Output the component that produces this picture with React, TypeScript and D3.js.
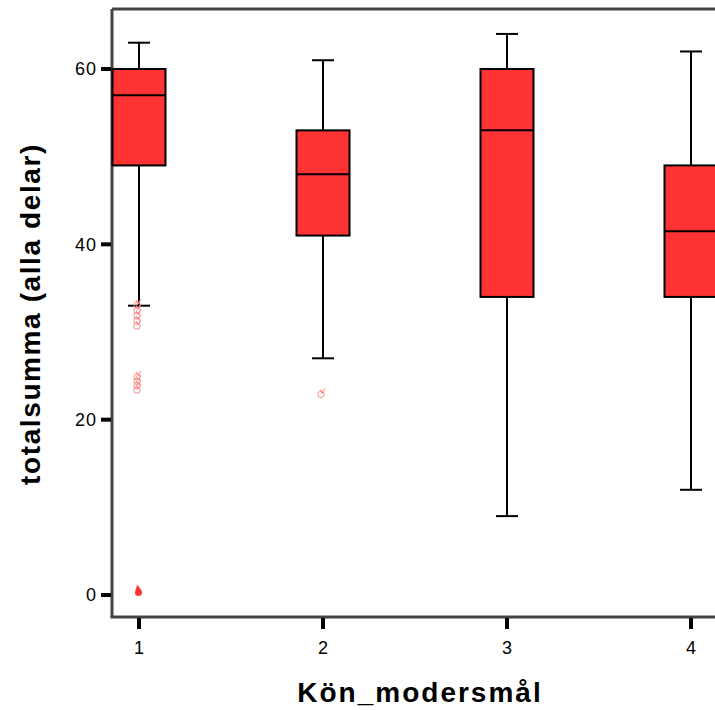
import React from "react";
import * as d3 from "d3";

const categories = ["1", "2", "3", "4"];
const whiskerLow = [33, 27, 9, 12];
const q1 = [49, 41, 34, 34];
const median = [57, 48, 53, 41.5];
const q3 = [60, 53, 60, 49];
const whiskerHigh = [63, 61, 64, 62];
const outliers = [
  [33.2, 32.6, 32, 31.4, 30.8, 25, 24.5, 24, 23.5],
  [23],
  [],
  [],
];
const extremes = [[0.5], [], [], []];
const yTicks = [0, 20, 40, 60];

const App = () => {
  const svgRef = React.useRef<SVGSVGElement>(null);

  React.useEffect(() => {
    const svg = d3.select(svgRef.current);
    svg.selectAll("*").remove();

    const left = 112;
    const top = 9;
    const bottom = 617;

    const x = d3.scaleLinear().domain([1, 4]).range([139, 691]);
    const y = d3.scaleLinear().domain([0, 60]).range([595, 69]);
    const boxW = 53;
    const capW = 22;

    // frame
    svg.append("line").attr("x1", left).attr("x2", left).attr("y1", top).attr("y2", bottom)
      .attr("stroke", "#444").attr("stroke-width", 3);
    svg.append("line").attr("x1", left).attr("x2", 720).attr("y1", top).attr("y2", top)
      .attr("stroke", "#444").attr("stroke-width", 3);
    svg.append("line").attr("x1", left - 1.5).attr("x2", 720).attr("y1", bottom).attr("y2", bottom)
      .attr("stroke", "#444").attr("stroke-width", 3);

    // y ticks
    yTicks.forEach((t) => {
      svg.append("line").attr("x1", left - 11).attr("x2", left - 1).attr("y1", y(t)).attr("y2", y(t))
        .attr("stroke", "#000").attr("stroke-width", 4);
      svg.append("text").attr("x", left - 15).attr("y", y(t)).attr("dy", "0.36em")
        .attr("text-anchor", "end").attr("font-family", "Liberation Sans, Arial, sans-serif")
        .attr("font-size", 18).attr("letter-spacing", 1).text(t);
    });

    categories.forEach((c, i) => {
      const cx = x(i + 1);
      svg.append("line").attr("x1", cx).attr("x2", cx).attr("y1", bottom + 1).attr("y2", bottom + 12)
        .attr("stroke", "#000").attr("stroke-width", 4);
      svg.append("text").attr("x", cx).attr("y", 654).attr("text-anchor", "middle")
        .attr("font-family", "Liberation Sans, Arial, sans-serif").attr("font-size", 18).text(c);

      const g = svg.append("g");
      // whiskers
      g.append("line").attr("x1", cx).attr("x2", cx).attr("y1", y(whiskerHigh[i])).attr("y2", y(q3[i]))
        .attr("stroke", "#000").attr("stroke-width", 2);
      g.append("line").attr("x1", cx).attr("x2", cx).attr("y1", y(q1[i])).attr("y2", y(whiskerLow[i]))
        .attr("stroke", "#000").attr("stroke-width", 2);
      [whiskerHigh[i], whiskerLow[i]].forEach((v) => {
        g.append("line").attr("x1", cx - capW / 2).attr("x2", cx + capW / 2).attr("y1", y(v)).attr("y2", y(v))
          .attr("stroke", "#000").attr("stroke-width", 2);
      });
      g.append("rect").attr("x", cx - boxW / 2).attr("y", y(q3[i])).attr("width", boxW)
        .attr("height", y(q1[i]) - y(q3[i])).attr("fill", "#ff3333")
        .attr("stroke", "#000").attr("stroke-width", 2);
      g.append("line").attr("x1", cx - boxW / 2).attr("x2", cx + boxW / 2)
        .attr("y1", y(median[i])).attr("y2", y(median[i])).attr("stroke", "#000").attr("stroke-width", 2);

      outliers[i].forEach((v) => {
        g.append("circle").attr("cx", cx - 2).attr("cy", y(v) + 1).attr("r", 3.2)
          .attr("fill", "none").attr("stroke", "#ff8a8a").attr("stroke-width", 1);
        g.append("path")
          .attr("d", `M${cx - 3},${y(v) - 4} L${cx - 1},${y(v)} L${cx + 2},${y(v) - 5}`)
          .attr("fill", "none").attr("stroke", "#ff8a8a").attr("stroke-width", 1);
      });
      extremes[i].forEach((v) => {
        const ey = y(v);
        g.append("path")
          .attr("d", `M${cx - 2},${ey - 6} C${cx},${ey - 3} ${cx + 3},${ey - 1} ${cx + 3},${ey + 2} A3.5,3.5 0 1 1 ${cx - 4},${ey + 2} C${cx - 4},${ey - 1} ${cx - 2},${ey - 3} ${cx - 2},${ey - 6} Z`)
          .attr("fill", "#ff3333");
      });
    });

    svg.append("text").attr("x", 420).attr("y", 702).attr("text-anchor", "middle")
      .attr("font-family", "Liberation Sans, Arial, sans-serif").attr("font-weight", "bold")
      .attr("font-size", 28).attr("letter-spacing", 2).text("Kön_modersmål");
    svg.append("text").attr("transform", "translate(40,314) rotate(-90)").attr("text-anchor", "middle")
      .attr("font-family", "Liberation Sans, Arial, sans-serif").attr("font-weight", "bold")
      .attr("font-size", 28).attr("letter-spacing", 1.6).text("totalsumma (alla delar)");
  }, []);

  return (
    <svg ref={svgRef} width={715} height={710}
      style={{ position: "absolute", left: 0, top: 0, background: "#fff" }} />
  );
};

export default App;
